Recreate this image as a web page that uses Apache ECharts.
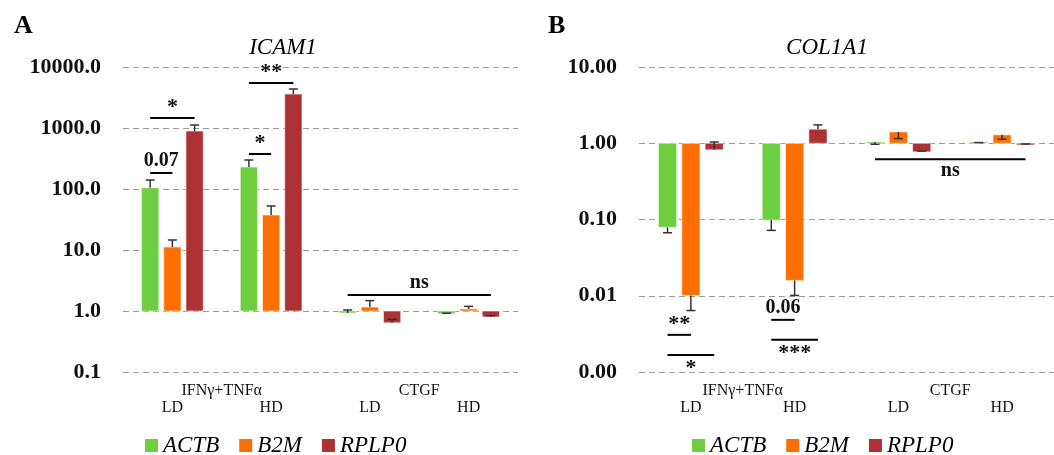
<!DOCTYPE html>
<html>
<head>
<meta charset="utf-8">
<script src="https://cdn.jsdelivr.net/npm/echarts@6/dist/echarts.min.js"></script>
<style>html,body{margin:0;padding:0;background:#fff;}#c{width:1054px;height:455px;}</style>
</head>
<body>
<div id="c"></div>
<script>
// ---- data ----
const seriesNames = ['ACTB', 'B2M', 'RPLP0'];
const seriesColors = ['#6DCF3F', '#FF6F00', '#AD3236'];
const conditionLabels = ['LD', 'HD', 'LD', 'HD'];
const treatmentLabels = ['IFNγ+TNFα', 'CTGF'];

// Panel A: ICAM1 (fold change, bar value and error-bar end)
const icamACTB = [105, 229, 0.93, 0.90];
const icamACTBErr = [140, 299, 1.04, 0.92];
const icamB2M = [11.2, 37.5, 1.16, 1.08];
const icamB2MErr = [14.6, 52.7, 1.48, 1.19];
const icamRPLP0 = [890, 3600, 0.64, 0.80];
const icamRPLP0Err = [1120, 4360, 0.73, 0.84];

// Panel B: COL1A1
const colACTB = [0.079, 0.098, 1.04, 1.04];
const colACTBErr = [0.067, 0.072, 0.97, 1.02];
const colB2M = [0.0101, 0.0159, 1.41, 1.29];
const colB2MErr = [0.0064, 0.0101, 1.15, 1.13];
const colRPLP0 = [0.82, 1.53, 0.77, 0.95];
const colRPLP0Err = [1.04, 1.74, 0.79, 0.98];

// significance brackets: [fromCat, fromSlot, toCat, toSlot, yValue, text, textSide]
const sigA = [
  [0, 0, 0, 1, 183, '0.07', 'above'],
  [0, 0, 0, 2, 1460, '*', 'above'],
  [1, 0, 1, 1, 375, '*', 'above'],
  [1, 0, 1, 2, 5470, '**', 'above'],
  [2, 0, 3, 2, 1.83, 'ns', 'above']
];
const sigB = [
  [0, 0, 0, 1, 0.00307, '**', 'above'],
  [0, 0, 0, 2, 0.00167, '*', 'below'],
  [1, 0, 1, 1, 0.00483, '0.06', 'above'],
  [1, 0, 1, 2, 0.00264, '***', 'below'],
  [2, 0, 3, 2, 0.616, 'ns', 'below']
];

const yTicksA = [0.1, 1, 10, 100, 1000, 10000];
const yTicksB = [0.001, 0.01, 0.1, 1, 10];

// ---- chart ----
const FONT = '"Liberation Serif", "Times New Roman", serif';
const SLOT_OFF = 0.225, BAR_W = 0.175;

function slotX(api, cat, slot) {
  const p0 = api.coord([0, 1])[0], p1 = api.coord([1, 1])[0];
  const band = p1 - p0;
  return { x: api.coord([cat, 1])[0] + (slot - 1) * SLOT_OFF * band, band: band };
}

function barRenderer(slot) {
  return function (params, api) {
    const cat = api.value(0), v = api.value(1), e = api.value(2);
    const s = slotX(api, cat, slot);
    const w = BAR_W * s.band;
    const yb = api.coord([cat, 1])[1];
    const yv = api.coord([cat, v])[1];
    const ye = api.coord([cat, e])[1];
    const color = api.visual('color');
    return {
      type: 'group',
      children: [
        { type: 'rect', shape: { x: s.x - w / 2, y: Math.min(yb, yv), width: w, height: Math.abs(yv - yb) },
          style: { fill: color, stroke: 'rgba(255,255,255,0.55)', lineWidth: 1 } },
        { type: 'line', shape: { x1: s.x, y1: yv, x2: s.x, y2: ye }, style: { stroke: '#333', lineWidth: 1.5 } },
        { type: 'line', shape: { x1: s.x - 4.5, y1: ye, x2: s.x + 4.5, y2: ye }, style: { stroke: '#333', lineWidth: 1.5 } }
      ]
    };
  };
}

function sigRenderer(list) {
  return function (params, api) {
    const a = list[params.dataIndex];
    const x1 = slotX(api, a[0], a[1]).x;
    const x2 = slotX(api, a[2], a[3]).x;
    const y = api.coord([a[0], a[4]])[1];
    const above = a[6] === 'above';
    const isStar = a[5].indexOf('*') >= 0;
    return {
      type: 'group',
      children: [
        { type: 'line', shape: { x1: x1, y1: y, x2: x2, y2: y }, style: { stroke: '#000', lineWidth: 2 } },
        { type: 'text', x: (x1 + x2) / 2, y: above ? y - (isStar ? 0 : 2) : y + 2,
          style: { text: a[5], align: 'center', verticalAlign: above ? 'bottom' : 'top',
                   font: (isStar ? 'bold 22px ' : 'bold 20px ') + FONT, fill: '#111' } }
      ]
    };
  };
}

function panelSeries(gi, vals, errs, sig) {
  const out = [];
  for (let k = 0; k < 3; k++) {
    out.push({
      type: 'custom', name: seriesNames[k], xAxisIndex: gi * 2, yAxisIndex: gi,
      itemStyle: { color: seriesColors[k] },
      encode: { x: 0, y: [1, 2] },
      renderItem: barRenderer(k),
      data: vals[k].map((v, i) => [i, v, errs[k][i]])
    });
  }
  out.push({
    type: 'custom', name: 'sig' + gi, xAxisIndex: gi * 2, yAxisIndex: gi,
    encode: { x: 0, y: 1 }, silent: true,
    renderItem: sigRenderer(sig),
    data: sig.map(a => [a[0], a[4]])
  });
  return out;
}

function yAxisFor(gi, ticks, digits) {
  return {
    type: 'log', gridIndex: gi, logBase: 10,
    min: ticks[0], max: ticks[ticks.length - 1],
    axisLine: { show: false }, axisTick: { show: false },
    axisLabel: { margin: 22, color: '#111', fontFamily: FONT, fontWeight: 'bold', fontSize: 22,
                 formatter: v => Number(v).toFixed(digits) },
    splitLine: { show: true, lineStyle: { color: '#9a9a9a', type: [6, 4], width: 1.2 } }
  };
}

function xAxesFor(gi) {
  return [
    { type: 'category', gridIndex: gi, data: conditionLabels, position: 'bottom',
      axisLine: { show: false }, axisTick: { show: false }, splitLine: { show: false },
      axisLabel: { margin: 28, color: '#111', fontFamily: FONT, fontSize: 16 } },
    { type: 'category', gridIndex: gi, data: treatmentLabels, position: 'bottom',
      axisLine: { show: false }, axisTick: { show: false }, splitLine: { show: false },
      axisLabel: { margin: 11, color: '#111', fontFamily: FONT, fontSize: 16 } }
  ];
}

const chart = echarts.init(document.getElementById('c'), null, { renderer: 'canvas' });
chart.setOption({
  animation: false,
  backgroundColor: '#fff',
  title: [
    { text: 'A', left: 9, top: 8, textStyle: { fontFamily: FONT, fontWeight: 'bold', fontSize: 26, color: '#000' } },
    { text: 'ICAM1', left: 278, top: 31, textAlign: 'center', textStyle: { fontFamily: FONT, fontStyle: 'italic', fontWeight: 'normal', fontSize: 23, color: '#000' } },
    { text: 'B', left: 543, top: 8, textStyle: { fontFamily: FONT, fontWeight: 'bold', fontSize: 26, color: '#000' } },
    { text: 'COL1A1', left: 822, top: 31, textAlign: 'center', textStyle: { fontFamily: FONT, fontStyle: 'italic', fontWeight: 'normal', fontSize: 23, color: '#000' } }
  ],
  legend: [
    { data: seriesNames, left: 140, top: 429, itemWidth: 13, itemHeight: 13, itemGap: 20, icon: 'rect', selectedMode: false,
      textStyle: { fontFamily: FONT, fontStyle: 'italic', fontSize: 23, color: '#000' } },
    { data: seriesNames, left: 687, top: 429, itemWidth: 13, itemHeight: 13, itemGap: 20, icon: 'rect', selectedMode: false,
      textStyle: { fontFamily: FONT, fontStyle: 'italic', fontSize: 23, color: '#000' } }
  ],
  grid: [
    { left: 123, top: 67, width: 395, height: 305 },
    { left: 639, top: 67, width: 415, height: 305 }
  ],
  xAxis: xAxesFor(0).concat(xAxesFor(1)),
  yAxis: [yAxisFor(0, yTicksA, 1), yAxisFor(1, yTicksB, 2)],
  series: panelSeries(0, [icamACTB, icamB2M, icamRPLP0], [icamACTBErr, icamB2MErr, icamRPLP0Err], sigA)
    .concat(panelSeries(1, [colACTB, colB2M, colRPLP0], [colACTBErr, colB2MErr, colRPLP0Err], sigB))
});
</script>
</body>
</html>
